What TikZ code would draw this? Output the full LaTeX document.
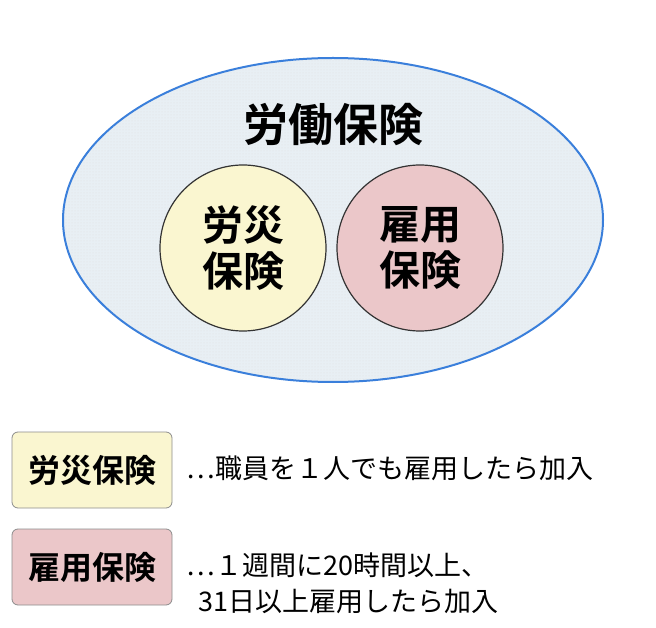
\documentclass[tikz,border=0pt]{standalone}
\usepackage{fontspec}
\newfontfamily\cjk{Noto Sans CJK JP}
\newfontfamily\cjkb{Noto Sans CJK JP Bold}
\usetikzlibrary{patterns}
\definecolor{rosai}{HTML}{FAF6D0}
\definecolor{koyo}{HTML}{EBC7C9}
\definecolor{sky}{HTML}{E8EFF4}
\definecolor{rim}{HTML}{3A7FDB}
\tikzset{
  insure/.style={circle, draw=black!80, line width=1.2pt, minimum size=166pt, inner sep=0pt, align=center, font=\cjkb\fontsize{41}{46}\selectfont},
  keybox/.style={draw=black!45, rounded corners=6pt, line width=0.8pt, minimum width=160pt, minimum height=76pt, font=\cjkb\fontsize{32}{34}\selectfont},
  note/.style={anchor=west, align=left, font=\cjk\fontsize{27}{36}\selectfont}
}
\begin{document}
\begin{tikzpicture}[x=1pt, y=-1pt]
\useasboundingbox (0,0) rectangle (656,628);
\draw[rim, line width=2pt, fill=sky] (333,220) ellipse [x radius=270, y radius=162];
\fill[pattern=dots, pattern color=black!12] (333,220) ellipse [x radius=269, y radius=161];
\node[font=\cjkb\fontsize{45}{48}\selectfont] (roudou) at (333,125) {労働保険};
\node[insure, fill=rosai] (rosaiC) at (243,248) {労災\\保険};
\node[insure, fill=koyo] (koyoC) at (420,248) {雇用\\保険};
\node[keybox, fill=rosai] (rosaiK) at (92,470) {労災保険};
\node[keybox, fill=koyo] (koyoK) at (92,567) {雇用保険};
\node[note] (rosaiN) at (183,468) {…職員を１人でも雇用したら加入};
\node[note] (koyoN) at (183,583) {…１週間に20時間以上、\\\ \ 31日以上雇用したら加入};
\end{tikzpicture}
\end{document}
